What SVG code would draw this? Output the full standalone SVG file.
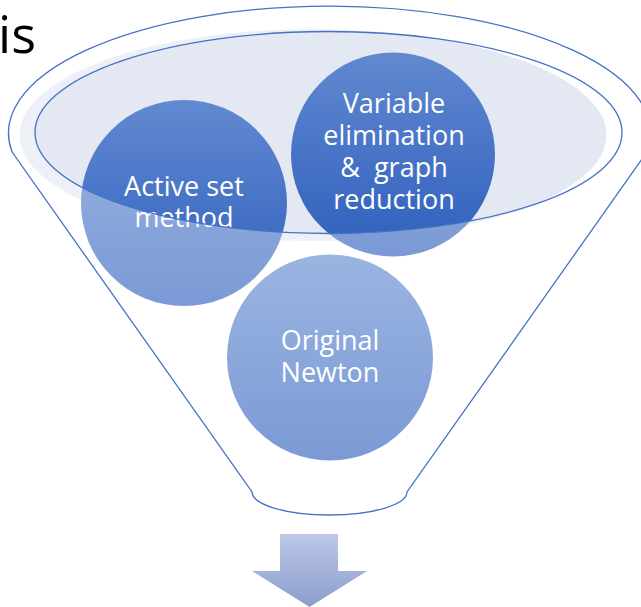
<svg xmlns="http://www.w3.org/2000/svg" width="641" height="607" viewBox="0 0 641 607">
  <defs>
    <linearGradient id="ballFill" x1="0" y1="0" x2="0" y2="1">
      <stop offset="0" stop-color="#6189D0"/>
      <stop offset="1" stop-color="#2E5FBD"/>
    </linearGradient>
    <linearGradient id="arrowFill" x1="0" y1="0" x2="0" y2="1">
      <stop offset="0" stop-color="#BCC8E8"/>
      <stop offset="1" stop-color="#8C9DCD"/>
    </linearGradient>
    <style>
      .outline { fill: none; stroke: #4472C4; stroke-width: 1.3; }
      .ball { fill: url(#ballFill); }
      .label { font-family: "Open Sans", "Liberation Sans", sans-serif; font-size: 27px; fill: #FFFFFF; text-anchor: middle; white-space: pre; }
      .title { font-family: "Open Sans", "Liberation Sans", sans-serif; font-size: 52px; fill: #000000; text-anchor: end; }
    </style>
  </defs>

  <rect width="641" height="607" fill="#FFFFFF"/>

  <!-- heading fragment -->
  <text class="title" x="36" y="53">is</text>

  <!-- funnel mouth (back fill) -->
  <g id="funnel-back">
    <ellipse cx="313" cy="135" rx="293.5" ry="106" fill="#E4E8F3"/>
  </g>

  <!-- items in the funnel -->
  <g id="node-active-set">
    <circle class="ball" cx="184" cy="203" r="103"/>
    <text class="label" x="184" y="196">Active set</text>
    <text class="label" x="184" y="227">method</text>
  </g>

  <g id="node-variable-elimination">
    <circle class="ball" cx="393" cy="154.5" r="102"/>
    <text class="label" x="394" y="113">Variable</text>
    <text class="label" x="394" y="145">elimination</text>
    <text class="label" x="394" y="177">&amp;  graph</text>
    <text class="label" x="394" y="209">reduction</text>
  </g>

  <g id="node-original-newton">
    <circle class="ball" cx="330" cy="357.5" r="103"/>
    <text class="label" x="330" y="350">Original</text>
    <text class="label" x="330" y="382">Newton</text>
  </g>

  <!-- funnel body: translucent front glass and outlines -->
  <g id="funnel-front">
    <path fill="#FFFFFF" fill-opacity="0.37" fill-rule="evenodd"
          d="M 12.1 152 A 321 127 0 1 1 646.9 152 L 407 492 A 77.5 23 0 0 1 252 492 Z
             M 35 132.5 A 293.5 101 0 1 0 622 132.5 A 293.5 101 0 1 0 35 132.5 Z"/>
    <path class="outline" d="M 12.1 152 A 321 127 0 1 1 646.9 152 L 407 492 A 77.5 23 0 0 1 252 492 Z"/>
    <ellipse class="outline" cx="328.5" cy="132.5" rx="293.5" ry="101"/>
  </g>

  <!-- output arrow -->
  <g id="connectors">
    <polygon fill="url(#arrowFill)" points="280,534 338,534 338,571 367,571 309.5,607 252,571 280,571"/>
  </g>
</svg>
